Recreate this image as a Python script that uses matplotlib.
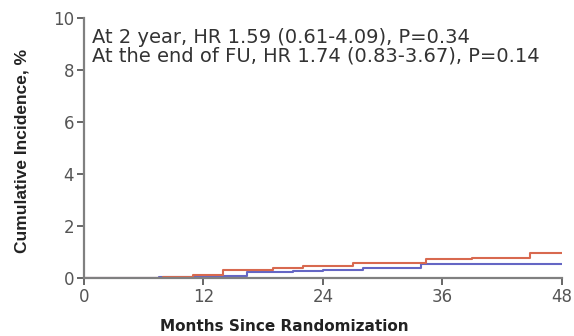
import matplotlib.pyplot as plt

plt.rcParams['font.family'] = ['DejaVu Sans']

# step points (months, cumulative incidence %)
red_months = [0, 8, 11, 14, 19, 22, 27, 34.4, 39, 44.8, 48]
red_inc = [0, 0.02, 0.1, 0.32, 0.38, 0.46, 0.59, 0.73, 0.77, 0.96, 0.96]
blue_months = [0, 7.5, 12, 16.4, 21, 24, 28, 33.9, 48]
blue_inc = [0, 0.05, 0.08, 0.23, 0.28, 0.3, 0.38, 0.54, 0.54]

x_ticks = [0, 12, 24, 36, 48]
y_ticks = [0, 2, 4, 6, 8, 10]
notes = ["At 2 year, HR 1.59 (0.61-4.09), P=0.34",
         "At the end of FU, HR 1.74 (0.83-3.67), P=0.14"]

fig = plt.figure(figsize=(5.74, 3.36), dpi=100)
ax = fig.add_axes([0.146, 0.173, 0.833, 0.773])

ax.step(blue_months, blue_inc, where='post', color='#6466c4', lw=1.5)
ax.step(red_months, red_inc, where='post', color='#d8694f', lw=1.5)

ax.set_xlim(0, 48)
ax.set_ylim(0, 10)
ax.set_xticks(x_ticks)
ax.set_yticks(y_ticks)
for s in ['top', 'right']:
    ax.spines[s].set_visible(False)
for s in ['left', 'bottom']:
    ax.spines[s].set_color('#808080')
    ax.spines[s].set_linewidth(1.6)
ax.tick_params(colors='#666666', labelcolor='#555555', labelsize=12,
               width=1.4, length=5, pad=2)

ax.set_xlabel("Months Since Randomization", fontsize=11, fontweight='bold',
              color='#222222')
ax.xaxis.set_label_coords(0.42, -0.16)
ax.set_ylabel("Cumulative Incidence, %", fontsize=12.5, fontweight='bold',
              family='Liberation Sans', color='#222222')
ax.yaxis.set_label_coords(-0.113, 0.49)

ax.text(0.017, 0.962, "\n".join(notes), transform=ax.transAxes,
        fontsize=14, color='#333333', va='top', linespacing=0.95)

fig.savefig("out.png", dpi=100)
